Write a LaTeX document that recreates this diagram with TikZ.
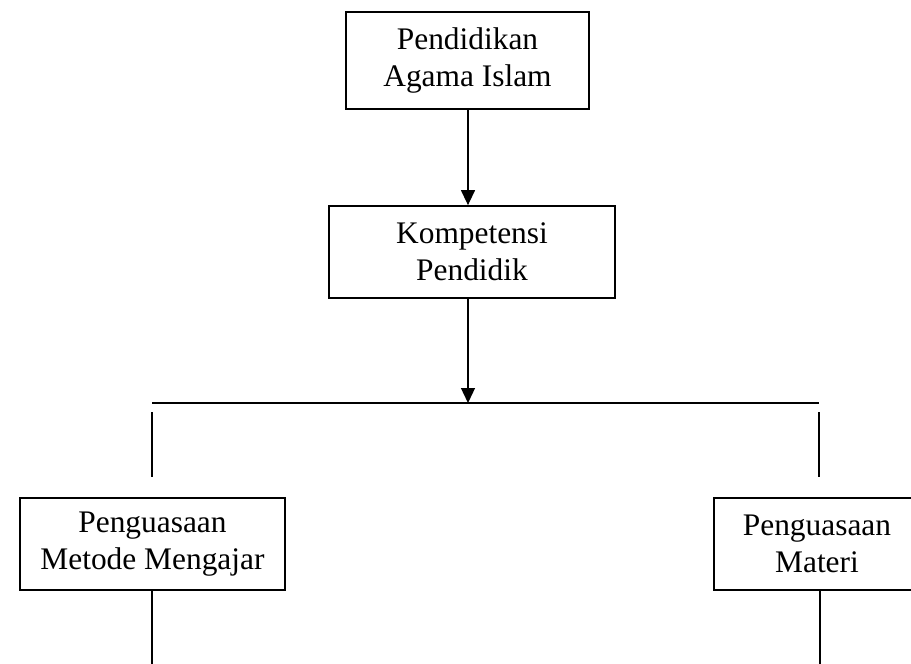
\documentclass[tikz,border=0pt]{standalone}
\usepackage{fontspec}
\setmainfont{Liberation Serif}
\usetikzlibrary{arrows.meta}

\begin{document}
\begin{tikzpicture}[x=0.03cm,y=-0.03cm,
  box/.style={draw,line width=1.5pt,align=center,inner sep=0pt,
    font=\fontsize{26.8}{31.3}\selectfont},
  link/.style={line width=1.1pt},
  arrowlink/.style={link,-{Triangle[length=0.45cm,width=0.42cm]}}]
% page frame
\useasboundingbox (0,0) rectangle (911,664);

% Draw boxes
\node[box,minimum width=243*0.03cm,minimum height=97*0.03cm] (pai) at (467.5,60.5) {Pendidikan\\Agama Islam};
\node[box,minimum width=286*0.03cm,minimum height=92*0.03cm] (kompetensi) at (472,252) {Kompetensi\\Pendidik};
\node[box,minimum width=265*0.03cm,minimum height=92*0.03cm] (metode) at (152.5,544) {Penguasaan\\Metode Mengajar};
\node[box,minimum width=206*0.03cm,minimum height=92*0.03cm] (materi) at (817,544) {Penguasaan\\Materi};

% Bus line and drops
\coordinate (busL) at (152,403);
\coordinate (busR) at (819,403);
\coordinate (busM) at (468,403);
\coordinate (dropLtop) at (152,412);
\coordinate (dropLbot) at (152,477);
\coordinate (dropRtop) at (819,412);
\coordinate (dropRbot) at (819,477);
\coordinate (endL) at (152,664);
\coordinate (endR) at (820,664);

% Draw connectors
\draw[arrowlink] (pai.south -| busM) -- (kompetensi.north -| busM);
\draw[arrowlink] (kompetensi.south -| busM) -- (busM);
\draw[link] (busL) -- (busR);
\draw[link] (dropLtop) -- (dropLbot);
\draw[link] (dropRtop) -- (dropRbot);
\draw[link] (metode.south -| endL) -- (endL);
\draw[link] (materi.south -| endR) -- (endR);
\end{tikzpicture}
\end{document}
